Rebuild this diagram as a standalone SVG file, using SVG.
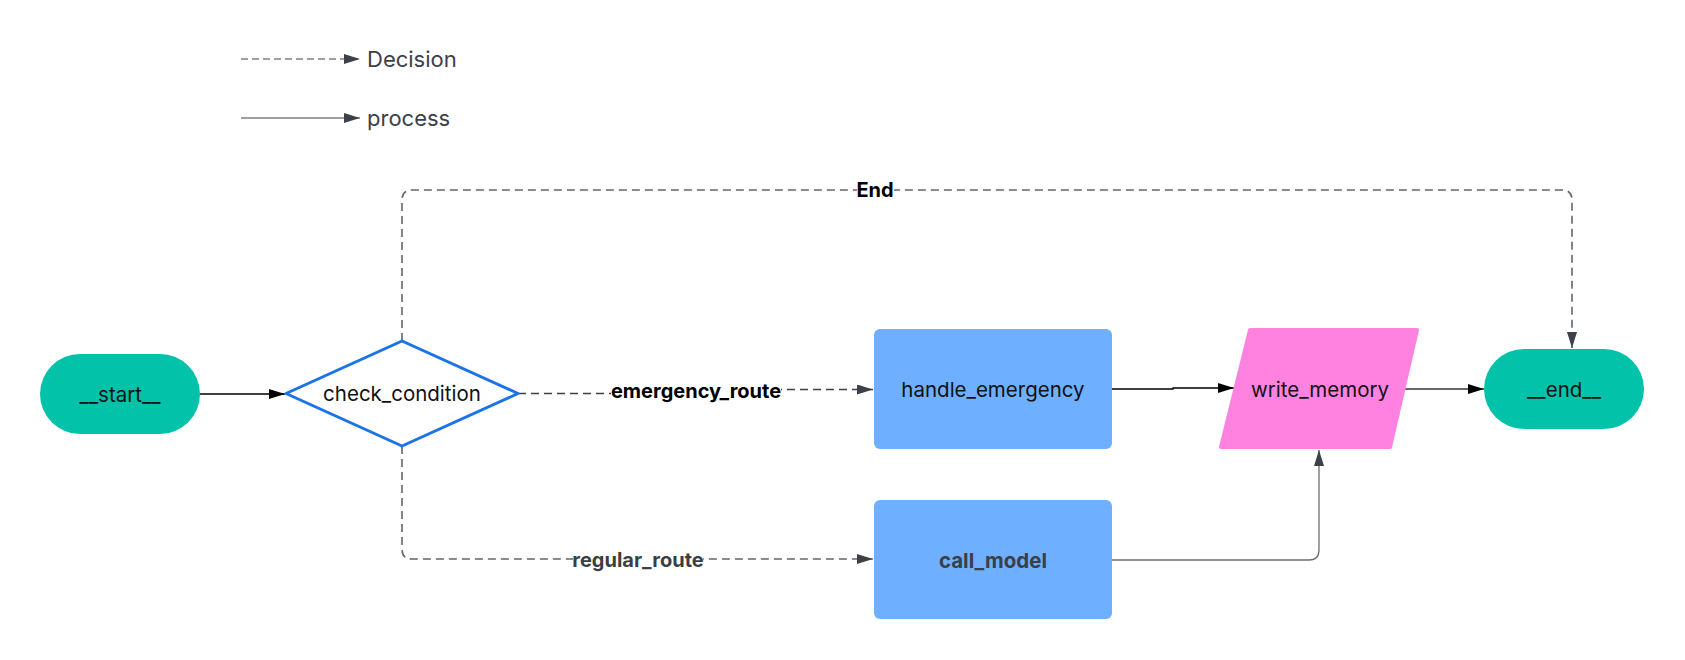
<svg xmlns="http://www.w3.org/2000/svg" width="1685" height="660" viewBox="0 0 1685 660">
<defs>
<marker id="ah" markerUnits="userSpaceOnUse" markerWidth="16" markerHeight="10" refX="16" refY="5" orient="auto"><path d="M0,0 L16,5 L0,10 z" fill="#3c4049"/></marker>
<marker id="ahk" markerUnits="userSpaceOnUse" markerWidth="16" markerHeight="10" refX="16" refY="5" orient="auto"><path d="M0,0 L16,5 L0,10 z" fill="#000"/></marker>
<style>
text{font-family:Inter,"Liberation Sans",sans-serif;}
.lbl{font-size:20.5px;fill:#111;text-anchor:middle;dominant-baseline:central;}
.elbl{font-size:20px;font-weight:bold;text-anchor:middle;dominant-baseline:central;}
.bg{fill:#fff;}
.leg{font-size:22px;fill:#3c4049;}
.dash{fill:none;stroke:#62666d;stroke-width:1.6;stroke-dasharray:8 5;}
.solid{fill:none;stroke:#000;stroke-width:1.3;}
.term{fill:#02c2a9;}
.proc{fill:#6eb0ff;}
</style>
</defs>
<g id="legend">
<path d="M241,59 H360" fill="none" stroke="#3c4049" stroke-width="1.2" stroke-dasharray="7 4" marker-end="url(#ah)"/>
<text class="leg" x="367" y="67">Decision</text>
<path d="M241,118 H360" fill="none" stroke="#3c4049" stroke-width="1.2" marker-end="url(#ah)"/>
<text class="leg" x="367" y="126">process</text>
</g>
<g id="connectors">
<path class="solid" d="M200,394 H285" marker-end="url(#ahk)"/>
<path class="dash" d="M518,393.5 H696 V389.5 H873" style="stroke:#3c4049" marker-end="url(#ah)"/>
<path class="dash" d="M402,446 V549 Q402,559 412,559 H873" marker-end="url(#ah)"/>
<path class="dash" d="M402,341 V200 Q402,190 412,190 H1562 Q1572,190 1572,200 V348" marker-end="url(#ah)"/>
<path class="solid" d="M1112,389 H1173 V388 H1234" marker-end="url(#ahk)"/>
<path class="solid" d="M1404,389 H1484" style="stroke:#333" marker-end="url(#ahk)"/>
<path class="solid" d="M1112,560 H1309 Q1319,560 1319,550 V450" style="stroke:#6b6f76" marker-end="url(#ah)"/>
<rect class="bg" x="611" y="381" width="170" height="20"/>
<text class="elbl" x="696" y="391" fill="#000">emergency_route</text>
<rect class="bg" x="573" y="550" width="130" height="20"/>
<text class="elbl" x="638" y="560" fill="#3a3f47">regular_route</text>
<rect class="bg" x="857" y="180" width="37" height="20"/>
<text class="elbl" x="875" y="190" fill="#000">End</text>
</g>
<g id="start">
<rect class="term" x="40" y="354" width="160" height="80" rx="40"/>
<text class="lbl" x="120" y="394">__start__</text>
</g>
<g id="check_condition">
<polygon points="402,341 518,393.5 402,446 286,393.5" fill="#fff" stroke="#1a73e8" stroke-width="3" stroke-linejoin="round"/>
<text class="lbl" x="402" y="393.5">check_condition</text>
</g>
<g id="handle_emergency">
<rect class="proc" x="874" y="329" width="238" height="120" rx="6"/>
<text class="lbl" x="993" y="389">handle_emergency</text>
</g>
<g id="call_model">
<rect class="proc" x="874" y="500" width="238" height="119" rx="6"/>
<text class="lbl" x="993" y="560" style="font-weight:bold;fill:#3a3f47">call_model</text>
</g>
<g id="write_memory">
<polygon points="1250,330 1417,330 1390,447 1221,447" fill="#ff82e0" stroke="#ff82e0" stroke-width="4" stroke-linejoin="round"/>
<text class="lbl" x="1320" y="389">write_memory</text>
</g>
<g id="end">
<rect class="term" x="1484" y="349" width="160" height="80" rx="40"/>
<text class="lbl" x="1564" y="389">__end__</text>
</g>
</svg>
